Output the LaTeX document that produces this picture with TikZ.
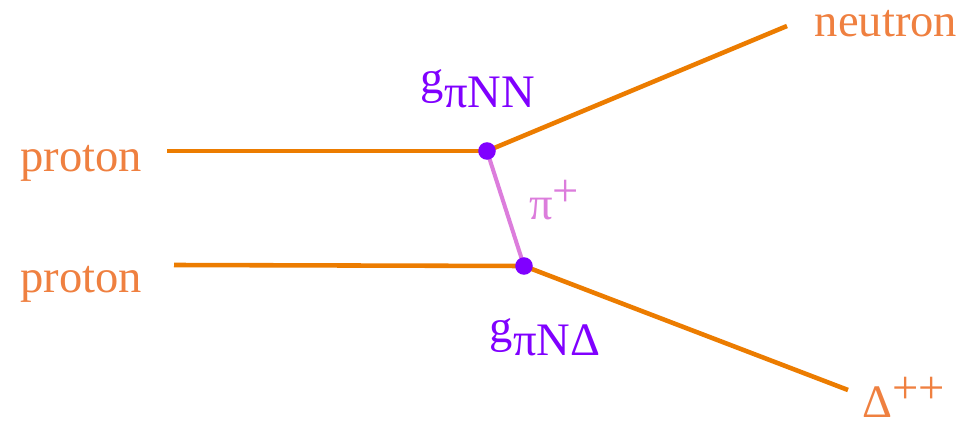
\documentclass[tikz,border=0pt]{standalone}
\usepackage{fontspec}
\setmainfont{Liberation Serif}
\usepackage{tikz}
\usetikzlibrary{positioning}

\definecolor{lineorange}{RGB}{236,124,0}
\definecolor{textorange}{RGB}{239,128,64}
\definecolor{vertexviolet}{RGB}{128,0,255}
\definecolor{pionpink}{RGB}{220,125,220}

\tikzset{
  particle/.style={text=textorange, anchor=base, inner sep=0pt,
    font=\fontsize{26.5}{30}\selectfont},
  coupling/.style={text=vertexviolet, anchor=base, inner sep=0pt,
    font=\fontsize{26.5}{30}\selectfont},
  fermion/.style={draw=lineorange, line width=2.6pt},
  meson/.style={draw=pionpink, line width=2.3pt},
  vertexdot/.style={circle, fill=vertexviolet, minimum size=10pt, inner sep=0pt}
}

\begin{document}
\begin{tikzpicture}[x=0.02cm, y=-0.02cm]

% Frame (fixes the page size)
\useasboundingbox (0,0) rectangle (962,425);

% ============================
% VERTICES
% ============================
\coordinate (vtop) at (487,151);
\coordinate (vbot) at (524,266);

% free line ends
\coordinate (p1in) at (167,151);
\coordinate (p2in) at (174,265);
\coordinate (nout) at (787,26);
\coordinate (dout) at (848,390);

% ============================
% LINES
% ============================
\draw[fermion] (p1in) -- (vtop);
\draw[fermion] (p2in) -- (vbot);
\draw[fermion] (vtop) -- (nout);
\draw[fermion] (vbot) -- (dout);
\draw[meson] (vtop) -- (vbot);

\node[vertexdot] (dottop) at (vtop) {};
\node[vertexdot] (dotbot) at (vbot) {};

% ============================
% LABELS
% ============================
\node[particle] (proton1) at (81,172) {proton};
\node[particle] (proton2) at (81,292) {proton};
\node[particle] (neutron) at (886,37) {neutron};
\node[particle] (delta) at (904,417) {Δ\raisebox{0.3em}{++}};

\node[coupling] (gtop) at (478,94) {g\raisebox{-0.3em}{πNN}};
\node[coupling] (gbot) at (545,342) {g\raisebox{-0.3em}{πNΔ}};
\node[particle, text=pionpink] (pion) at (554,220) {π\raisebox{0.3em}{+}};

\end{tikzpicture}
\end{document}
